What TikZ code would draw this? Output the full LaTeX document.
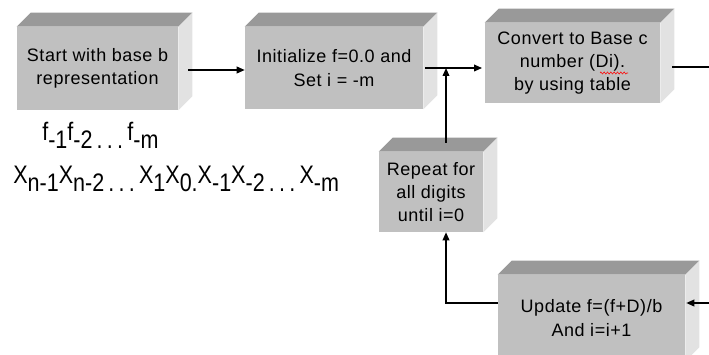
\documentclass[tikz,border=0pt]{standalone}
\usepackage{fontspec}
\setmainfont{Liberation Sans}
\newfontfamily\boxfont[LetterSpace=3]{Liberation Sans}
\newfontfamily\digitfont[FakeStretch=0.85]{Liberation Sans}
\usetikzlibrary{positioning,calc,arrows.meta,decorations.pathmorphing}

\definecolor{frontgray}{RGB}{192,192,192}
\definecolor{topgray}{RGB}{153,153,153}
\definecolor{sidegray}{RGB}{226,226,226}

\newcommand\lo[1]{\raisebox{-0.6ex}{#1}}

\tikzset{
  block/.style={fill=frontgray, align=center, inner sep=0pt,
    font=\boxfont\fontsize{13.5}{17.5}\selectfont},
  flow/.style={-{Triangle[length=6pt,width=5pt]}, line width=1.1pt},
  digits/.style={anchor=base west, inner sep=0pt, font=\digitfont\fontsize{19}{22}\selectfont},
}

\begin{document}
\begin{tikzpicture}[x=0.75pt,y=0.75pt]
\clip (0,0) rectangle (709,354);
\node[block, minimum width=120.75pt, minimum height=62.25pt](start) at (97.5,285.5){Start with base b\\representation};
\node[block, minimum width=133.5pt, minimum height=61.5pt](init) at (334,286){Initialize f=0.0 and\\Set i = -m};
\node[block, minimum width=131.25pt, minimum height=60pt](conv) at (572.5,291){Convert to Base c\\number (Di).\\by using table};
\node[block, minimum width=78pt, minimum height=60pt](rep) at (431,162){Repeat for\\all digits\\until i=0};
\node[block, minimum width=140.25pt, minimum height=64.5pt](upd) at (591.5,36){Update f=(f+D)/b\\And i=i+1};

% top and side faces
\foreach \b in {start,init,conv,rep,upd}{
  \fill[topgray] (\b.north west) -- ++(14,14) -- ($(\b.north east)+(14,14)$) -- (\b.north east) -- cycle;
  \fill[sidegray] (\b.north east) -- ++(14,14) -- ($(\b.south east)+(14,14)$) -- (\b.south east) -- cycle;
}

% spell check mark
\draw[red, decorate, decoration={zigzag, amplitude=0.8pt, segment length=2.5pt}] (600,281) -- (628,281);

\node[digits](frow) at (42,214){f\lo{-1}f\lo{-2}\lo{\,.\,.\,.\,}f\lo{-m}};
\node[digits](xrow) at (13,171){X\lo{n-1}X\lo{n-2}\lo{\,.\,.\,.\,}X\lo{1}X\lo{0}\lo{.}X\lo{-1}X\lo{-2}\lo{\,.\,.\,.\,}X\lo{-m}};

\coordinate (jn) at (446,286);
\coordinate (outR) at (709,287);
\coordinate (inR) at (709,51);

\draw[flow, shorten <=7.5pt] (start.east |- 0,284) -- (init.west |- 0,284);
\draw[flow, shorten <=1.5pt, shorten >=2pt] (init.east) -- (init.east -| conv.west);
\draw[flow] ($(jn |- rep.north)+(0,9)$) -- (jn);
\draw[line width=1.1pt, shorten <=9pt] (conv.east |- outR) -- (outR);
\draw[flow] (inR) -- ($(upd.east |- inR)+(1,0)$);
\draw[flow] (upd.west |- inR) -| (jn |- rep.south);
\end{tikzpicture}
\end{document}
